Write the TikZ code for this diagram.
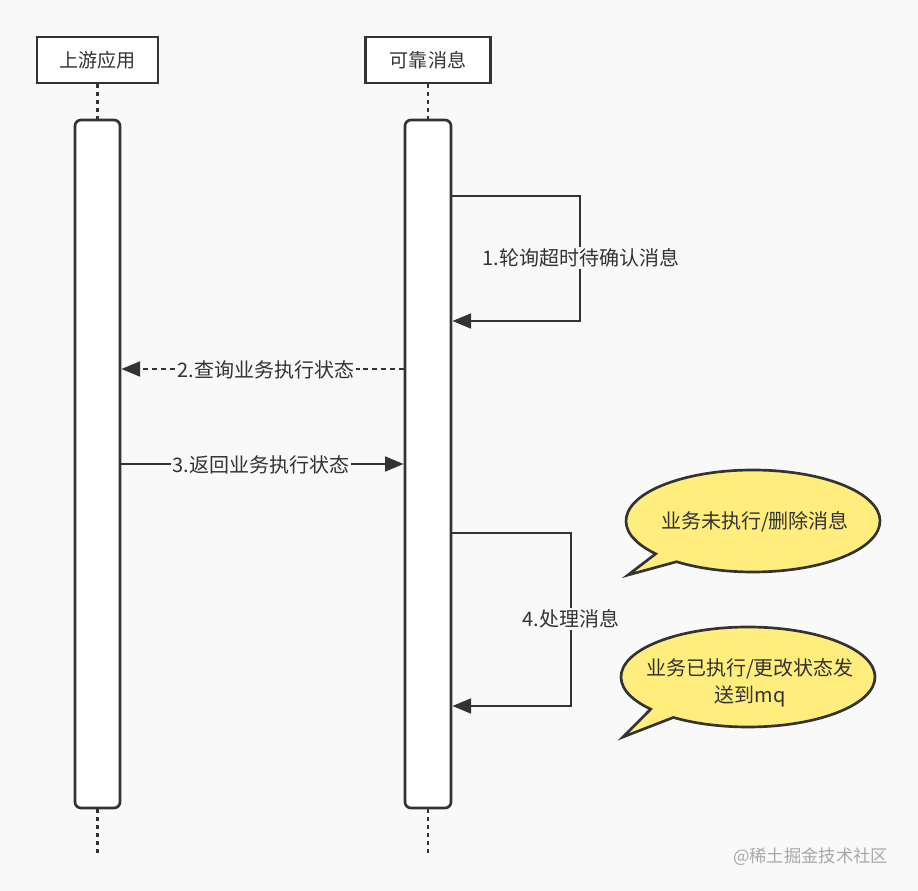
\documentclass[tikz,border=0pt]{standalone}
\usepackage{fontspec}
\setmainfont{Noto Sans CJK SC}
\usetikzlibrary{arrows.meta,calc}
\definecolor{bgc}{HTML}{F9F9F9}
\definecolor{ink}{HTML}{333333}
\definecolor{note}{HTML}{FFED7E}
\definecolor{wm}{HTML}{A8A8A8}
\tikzset{
  hdr/.style={draw=ink, line width=2.2pt, fill=white, minimum height=34.5pt, inner sep=0pt, text=ink, font=\fontsize{14.3}{16}\selectfont},
  act/.style={draw=ink, line width=2pt, fill=white, rounded corners=4.5pt, minimum width=33.75pt, minimum height=516pt, inner sep=0pt},
  life/.style={draw=ink, line width=2.2pt, dash pattern=on 3pt off 3pt},
  msg/.style={draw=ink, line width=2.1pt, -{Triangle[length=14pt,width=11pt]}},
  dmsg/.style={msg, dash pattern=on 3.8pt off 2.8pt},
  lbl/.style={fill=bgc, inner sep=1pt, text=ink, font=\fontsize{15}{18}\selectfont},
  callout/.style={draw=ink, line width=2pt, fill=note},
  ctext/.style={text=ink, font=\fontsize{15}{20}\selectfont, align=center}
}
\begin{document}
\begin{tikzpicture}[x=0.75pt,y=-0.75pt]
\fill[bgc] (0,0) rectangle (918,891);
\useasboundingbox (0,0) rectangle (918,891);
% headers
\node[hdr, minimum width=90.75pt] (h1) at (97.5,60) {上游应用};
\node[hdr, minimum width=93.75pt] (h2) at (428,60) {可靠消息};
% activation boxes
\node[act] (a1) at (97.5,464) {};
\node[act, minimum width=34.5pt] (a2) at (428,464) {};
% lifelines
\coordinate (e1) at (97.5,853);
\coordinate (e2) at (428,853);
\draw[life] (h1.south) -- (a1.north);
\draw[life] (h2.south) -- (a2.north);
\draw[life] (a1.south) -- (e1);
\draw[life] (a2.south) -- (e2);
% 1 self message
\draw[msg] (a2.east |- 0,196) -- (580,196) -- (580,321) -- (a2.east |- 0,321);
\node[lbl] (l1) at (581,258) {1.轮询超时待确认消息};
% 2
\draw[dmsg] (a2.west |- 0,369) -- (a1.east |- 0,369);
\node[lbl] (l2) at (266,370) {2.查询业务执行状态};
% 3
\draw[msg] (a1.east |- 0,464) -- (a2.west |- 0,464);
\node[lbl] (l3) at (261,465) {3.返回业务执行状态};
% 4 self message
\draw[msg] (a2.east |- 0,533) -- (571,533) -- (571,706) -- (a2.east |- 0,706);
\node[lbl] (l4) at (571,619) {4.处理消息};
% callouts
\path[callout] (628,575) -- ($(753,521)+(140:127 and 51)$) arc[start angle=140, end angle=487, x radius=127, y radius=51] -- cycle;
\node[ctext] (c1) at (755,522) {业务未执行/删除消息};
\path[callout] (623,737) -- ($(748,677)+(140:127 and 50)$) arc[start angle=140, end angle=486, x radius=127, y radius=50] -- cycle;
\node[ctext] (c2) at (750,683) {业务已执行/更改状态发\\送到mq};
% watermark
\node[text=wm, font=\fontsize{13}{15}\selectfont, anchor=east] (wmk) at (893,857) {@稀土掘金技术社区};
\end{tikzpicture}
\end{document}
